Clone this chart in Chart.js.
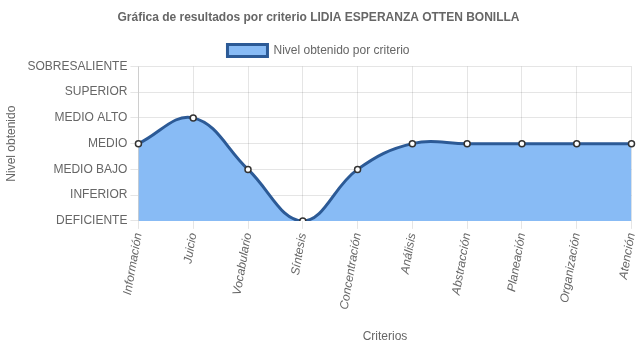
<!DOCTYPE html>
<html>
<head>
<meta charset="utf-8">
<script src="https://cdn.jsdelivr.net/npm/chart.js@4/dist/chart.umd.min.js"></script>
<style>
  html, body { margin: 0; padding: 0; background: #fff; }
  #wrap { width: 637px; height: 348px; }
</style>
</head>
<body>
<div id="wrap"><canvas id="myChart"></canvas></div>
<script>
  const criterios = [
    'Información',
    'Juicio',
    'Vocabulario',
    'Síntesis',
    'Concentración',
    'Análisis',
    'Abstracción',
    'Planeación',
    'Organización',
    'Atención',
  ];

  // nivel por criterio: 0 = DEFICIENTE ... 6 = SOBRESALIENTE
  const niveles = [3, 4, 2, 0, 2, 3, 3, 3, 3, 3];

  const nombresNivel = [
    'DEFICIENTE',
    'INFERIOR',
    'MEDIO BAJO',
    'MEDIO',
    'MEDIO ALTO',
    'SUPERIOR',
    'SOBRESALIENTE',
  ];

  Chart.defaults.font.family = '"Liberation Sans", Arial, sans-serif';
  Chart.defaults.font.size = 12;
  Chart.defaults.color = '#666';

  const data = {
    labels: criterios,
    datasets: [
      {
        label: 'Nivel obtenido por criterio',
        data: niveles,
        backgroundColor: 'rgba(136, 187, 245, 1)',
        borderColor: 'rgb(44, 90, 150)',
        borderWidth: 3,
        fill: true,
        tension: 0.4,
        pointRadius: 3,
        pointBorderWidth: 1.5,
        pointBackgroundColor: '#fff',
        pointBorderColor: '#333',
      }
    ]
  };

  const config = {
    type: 'line',
    data: data,
    options: {
      responsive: true,
      maintainAspectRatio: false,
      animation: false,
      layout: { padding: { left: 0, right: 0, top: 0, bottom: 0 } },
      plugins: {
        title: {
          display: true,
          text: 'Gráfica de resultados por criterio LIDIA ESPERANZA OTTEN BONILLA',
          font: { size: 12, weight: 'bold' },
          padding: { top: 10, bottom: 10 },
        },
        legend: {
          labels: {
            boxWidth: 40,
            boxHeight: 12,
            padding: 10,
          }
        },
        tooltip: { enabled: false },
      },
      scales: {
        x: {
          title: { display: true, text: 'Criterios', padding: { top: 16 } },
          grid: { color: 'rgba(0,0,0,0.1)', tickLength: 8 },
          ticks: {
            minRotation: 80,
            maxRotation: 80,
            font: { style: 'italic' },
          },
          // let the last rotated label hang past the plot edge
          afterFit: (scale) => { scale.paddingRight = 0; },
        },
        y: {
          min: 0,
          max: 6,
          title: { display: true, text: 'Nivel obtenido', padding: { top: 4, bottom: 6 } },
          grid: { color: 'rgba(0,0,0,0.1)', tickLength: 8 },
          ticks: {
            stepSize: 1,
            callback: (v) => nombresNivel[v],
          },
        },
      },
    }
  };

  const myChart = new Chart(
    document.getElementById('myChart'),
    config
  );
</script>
</body>
</html>
